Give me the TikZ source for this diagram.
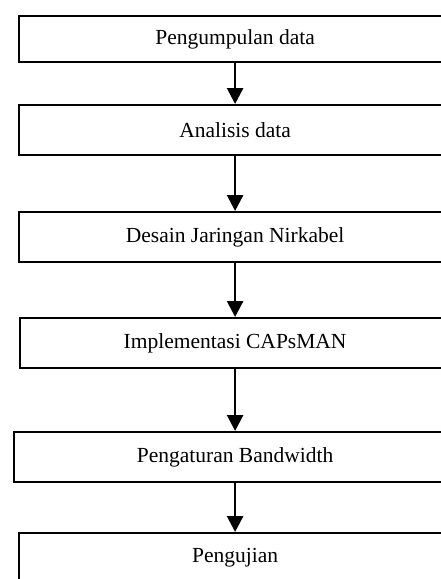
\documentclass[tikz,border=0pt]{standalone}
\usepackage{fontspec}
\setmainfont{Liberation Serif}
\usepackage{xcolor}
\usepackage{tikz}
\usetikzlibrary{arrows.meta, positioning, calc}

\begin{document}
\begin{tikzpicture}[x=1pt, y=1pt, every node/.style={font=\fontsize{21.5}{25}\selectfont},
		stepbox/.style={draw=black, line width=2.2pt, minimum height=50pt, anchor=north west, inner sep=0pt},
		flowarrow/.style={line width=2.6pt, -{Triangle[length=16pt, width=16pt]}}]
				
				% Frame of the picture
				\useasboundingbox (0,0) rectangle (441,-579);
				\clip (0,0) rectangle (441,-579);
				
				% Steps
				\node[stepbox, minimum width=432pt, minimum height=46pt] (kumpul) at (18,-15) {Pengumpulan data};
				\node[stepbox, minimum width=432pt] (analisis) at (18,-104) {Analisis data};
				\node[stepbox, minimum width=432pt] (desain) at (18,-211) {Desain Jaringan Nirkabel};
				\node[stepbox, minimum width=430pt] (implementasi) at (19,-317) {Implementasi CAPsMAN};
				\node[stepbox, minimum width=442pt] (bandwidth) at (13,-431) {Pengaturan Bandwidth};
				\node[stepbox, minimum width=432pt] (uji) at (18,-532) {Pengujian};
				
				% Arrows
				\draw[flowarrow] (kumpul.south) -- (analisis.north);
				\draw[flowarrow] (analisis.south) -- (desain.north);
				\draw[flowarrow] (desain.south) -- (implementasi.north);
				\draw[flowarrow] (implementasi.south) -- (bandwidth.north);
				\draw[flowarrow] (bandwidth.south) -- (uji.north);
				
			\end{tikzpicture}
\end{document}
